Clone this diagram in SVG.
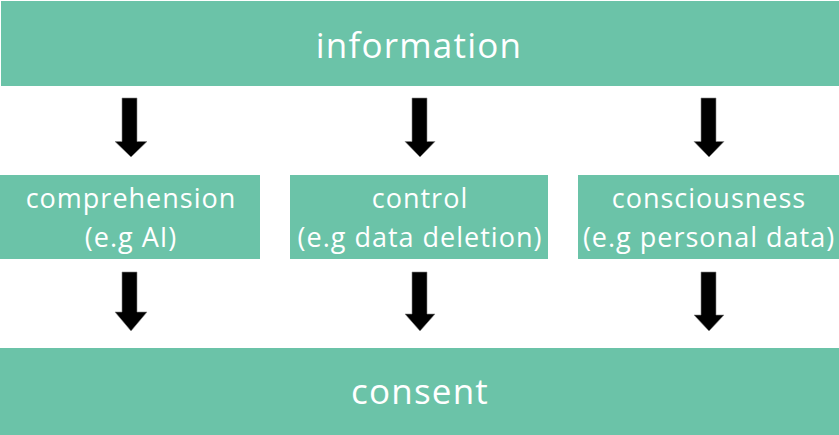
<svg xmlns="http://www.w3.org/2000/svg" width="839" height="435" viewBox="0 0 839 435">
<style>
.box{fill:#6BC3A8}
.t{font-family:"Open Sans","Noto Sans",sans-serif;fill:#fff;text-anchor:middle}
.big{font-size:35px;letter-spacing:1.2px}
.mid{font-size:27px;letter-spacing:1px}
.arr{fill:#000;stroke:#888;stroke-width:0.6}
</style>
<rect width="839" height="435" fill="#fff"/>
<g id="information"><rect class="box" x="1" y="1" width="838" height="85"/><text class="t big" x="419" y="57.5">information</text></g>
<g id="comprehension"><rect class="box" x="0" y="175" width="260" height="84"/><text class="t mid" x="131" y="208">comprehension</text><text class="t mid" x="131" y="247">(e.g AI)</text></g>
<g id="control"><rect class="box" x="290" y="175" width="258" height="84"/><text class="t mid" x="420" y="208">control</text><text class="t mid" x="420" y="247">(e.g data deletion)</text></g>
<g id="consciousness"><rect class="box" x="578" y="175" width="261" height="84"/><text class="t mid" x="709" y="208">consciousness</text><text class="t mid" x="709" y="247">(e.g personal data)</text></g>
<g id="consent"><rect class="box" x="0" y="348" width="839" height="87"/><text class="t big" x="420" y="403.5">consent</text></g>
<g id="connectors">
<polygon class="arr" points="122,98 137,98 137,141.5 147,141.5 131,157 115,141.5 122,141.5"/>
<polygon class="arr" points="412,98 427,98 427,141.5 435,141.5 420,157 405,141.5 412,141.5"/>
<polygon class="arr" points="701,98 716,98 716,141.5 724,141.5 709,157 694,141.5 701,141.5"/>
<polygon class="arr" points="122,272 137,272 137,312 147,312 131,331 115,312 122,312"/>
<polygon class="arr" points="412,272 427,272 427,314 435,314 420,331 405,314 412,314"/>
<polygon class="arr" points="701,272 716,272 716,315 724,315 709,331 694,315 701,315"/>
</g>
</svg>
